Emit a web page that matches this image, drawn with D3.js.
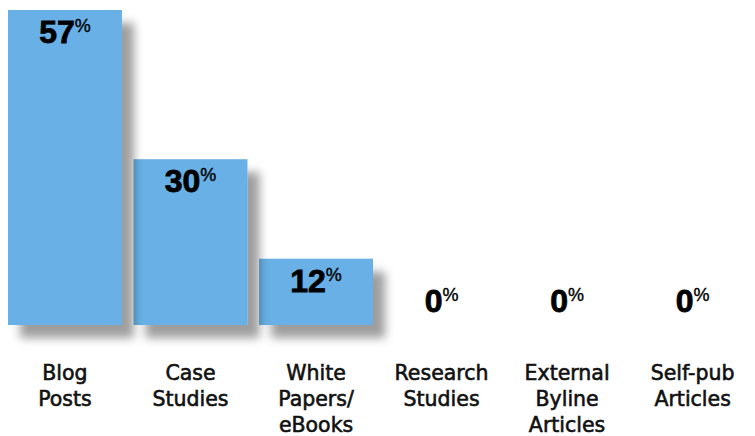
<!DOCTYPE html>
<html>
<head>
<meta charset="utf-8">
<script src="https://cdn.jsdelivr.net/npm/d3@7"></script>
<style>
	body { margin: 0; background: #fff; }
</style>
</head>
<body>
<div id="divplot"></div>
<script>
// content type share chart

const categories = ['Blog Posts', 'Case Studies', 'White Papers/ eBooks', 'Research Studies', 'External Byline Articles', 'Self-pub Articles']
const labelLines = [['Blog', 'Posts'], ['Case', 'Studies'], ['White', 'Papers/', 'eBooks'], ['Research', 'Studies'], ['External', 'Byline', 'Articles'], ['Self-pub', 'Articles']]
const values = [57, 30, 12, 0, 0, 0]

const plot = () => {

	let width = 755
	let height = 436
	let baseY = 325

	let xScale = d3.scaleBand()
		.domain(categories)
		.range([8, 749.6])
		.paddingInner(0.0924)
		.paddingOuter(0)

	let yScale = d3.scaleLinear()
		.domain([0, 57])
		.range([baseY, 10])

	let svg = d3.select('#divplot')
		.append('svg')
		.attr('width', width)
		.attr('height', height)

	let defs = svg.append('defs')
	let filter = defs.append('filter')
		.attr('id', 'shadow')
		.attr('x', '-20%').attr('y', '-20%')
		.attr('width', '160%').attr('height', '160%')
	filter.append('feDropShadow')
		.attr('dx', 12)
		.attr('dy', 13)
		.attr('stdDeviation', 5)
		.attr('flood-color', '#000')
		.attr('flood-opacity', 0.38)

	// reverse order so each bar's shadow falls on the next bar's left edge
	let idx = d3.range(categories.length).filter(i => values[i] > 0).reverse()

	svg.selectAll('rect.bar')
	.data(idx)
	.enter()
	.append('rect')
	.attr('class', 'bar')
	.attr('x', i => xScale(categories[i]))
	.attr('y', i => yScale(values[i]))
	.attr('width', xScale.bandwidth())
	.attr('height', i => baseY - yScale(values[i]))
	.attr('fill', '#68b0e5')
	.attr('filter', 'url(#shadow)')

	let vals = svg.selectAll('text.val')
	.data(values)
	.enter()
	.append('text')
	.attr('class', 'val')
	.attr('x', (d, i) => xScale(categories[i]) + xScale.bandwidth() / 2)
	.attr('y', d => d > 0 ? yScale(d) + 33 : yScale(d) - 13)
	.attr('text-anchor', 'middle')
	.attr('fill', '#000')
	.attr('stroke', '#000')
	.attr('style', 'font-family: "Liberation Sans", Arial, sans-serif')

	vals.append('tspan')
	.attr('font-size', 32)
	.attr('font-weight', 'bold')
	.attr('stroke-width', 0.8)
	.text(d => d)

	vals.append('tspan')
	.attr('font-size', 18)
	.attr('dy', -11)
	.attr('stroke-width', 0.4)
	.text('%')

	let cats = svg.selectAll('text.cat')
	.data(labelLines)
	.enter()
	.append('text')
	.attr('class', 'cat')
	.attr('x', (d, i) => xScale(categories[i]) + xScale.bandwidth() / 2)
	.attr('y', 380)
	.attr('text-anchor', 'middle')
	.attr('fill', '#111')
	.attr('stroke', '#111')
	.attr('stroke-width', 0.6)
	.attr('style', 'font-family: "DejaVu Sans", Verdana, sans-serif; font-size: 20.5px')

	cats.selectAll('tspan')
	.data((d, i) => d.map(t => ({ t, i })))
	.enter()
	.append('tspan')
	.attr('x', d => xScale(categories[d.i]) + xScale.bandwidth() / 2)
	.attr('dy', (d, j) => j === 0 ? 0 : 26)
	.text(d => d.t)
}

plot()
</script>
</body>
</html>
